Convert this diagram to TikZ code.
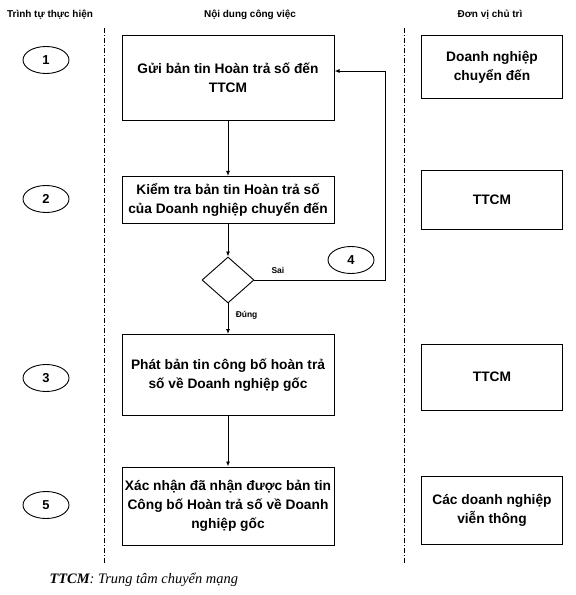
\documentclass[tikz,border=0pt]{standalone}
\usepackage{fontspec}
\setmainfont{Liberation Sans}
\newfontfamily\serifit{Liberation Serif}
\usetikzlibrary{arrows.meta,shapes.geometric}
\begin{document}
\begin{tikzpicture}[x=1bp,y=-1bp,
  box/.style={draw,line width=1bp,align=center,font=\fontsize{13.8}{19}\selectfont\bfseries,inner sep=0pt},
  num/.style={draw,ellipse,line width=0.9bp,minimum width=46bp,minimum height=27bp,inner sep=0pt,font=\fontsize{13}{14}\selectfont\bfseries},
  hdr/.style={font=\fontsize{10}{12}\selectfont\bfseries},
  lane/.style={line width=0.8bp,dash pattern=on 5bp off 2bp on 1bp off 2bp},
  flow/.style={line width=0.9bp,-{Latex[length=5bp,width=4bp]}},
  lbl/.style={font=\fontsize{8.5}{10}\selectfont\bfseries}]
\useasboundingbox (0,0) rectangle (576,595);
% headers
\node[hdr] (h1) at (50,15) {Trình tự thực hiện};
\node[hdr] (h2) at (250,15) {Nội dung công việc};
\node[hdr] (h3) at (490,15) {Đơn vị chủ trì};
% lanes
\coordinate (l1t) at (104,28); \coordinate (l1b) at (104,565);
\coordinate (l2t) at (404,28); \coordinate (l2b) at (404,565);
\draw[lane] (l1t) -- (l1b);
\draw[lane] (l2t) -- (l2b);
% step ellipses
\node[num] (n1) at (46,60) {1};
\node[num] (n2) at (46,199) {2};
\node[num] (n3) at (46,378) {3};
\node[num] (n5) at (46,505) {5};
% main boxes
\node[box,minimum width=212bp,minimum height=85bp] (b1) at (228,78) {Gửi bản tin Hoàn trả số đến\\TTCM};
\node[box,minimum width=212bp,minimum height=47bp] (b2) at (228,200) {Kiểm tra bản tin Hoàn trả số\\của Doanh nghiệp chuyển đến};
\node[draw,diamond,line width=0.9bp,minimum width=52bp,minimum height=46bp,inner sep=0pt] (d) at (228,280) {};
\node[box,minimum width=212bp,minimum height=81bp] (b3) at (228,375) {Phát bản tin công bố hoàn trả\\số về Doanh nghiệp gốc};
\node[box,minimum width=212bp,minimum height=78bp] (b5) at (228,506) {Xác nhận đã nhận được bản tin\\Công bố Hoàn trả số về Doanh\\nghiệp gốc};
% right boxes
\node[box,minimum width=141bp,minimum height=63bp] (r1) at (492,67) {Doanh nghiệp\\chuyển đến};
\node[box,minimum width=141bp,minimum height=58bp] (r2) at (492,200) {TTCM};
\node[box,minimum width=141bp,minimum height=66bp] (r3) at (492,377) {TTCM};
\node[box,minimum width=141bp,minimum height=68bp] (r5) at (492,510) {Các doanh nghiệp\\viễn thông};
% feedback ellipse
\node[num] (n4) at (351,260) {4};
% connectors
\draw[flow] (b1) -- (b2);
\draw[flow] (b2) -- (d);
\draw[flow] (d) -- node[lbl,right,pos=0.4,xshift=4bp] {Đúng} (b3);
\draw[flow] (b3) -- (b5);
\coordinate (c1) at (385,280);
\coordinate (c2) at (385,71);
\draw[flow] (d.east) -- node[lbl,above,pos=0.18,yshift=3bp] {Sai} (c1) -- (c2) -- (b1.east |- c2);
% footnote
\node[anchor=west,font=\serifit\fontsize{14.5}{16}\selectfont\itshape] (fn) at (46,580) {\textbf{TTCM}: Trung tâm chuyển mạng};
\end{tikzpicture}
\end{document}
